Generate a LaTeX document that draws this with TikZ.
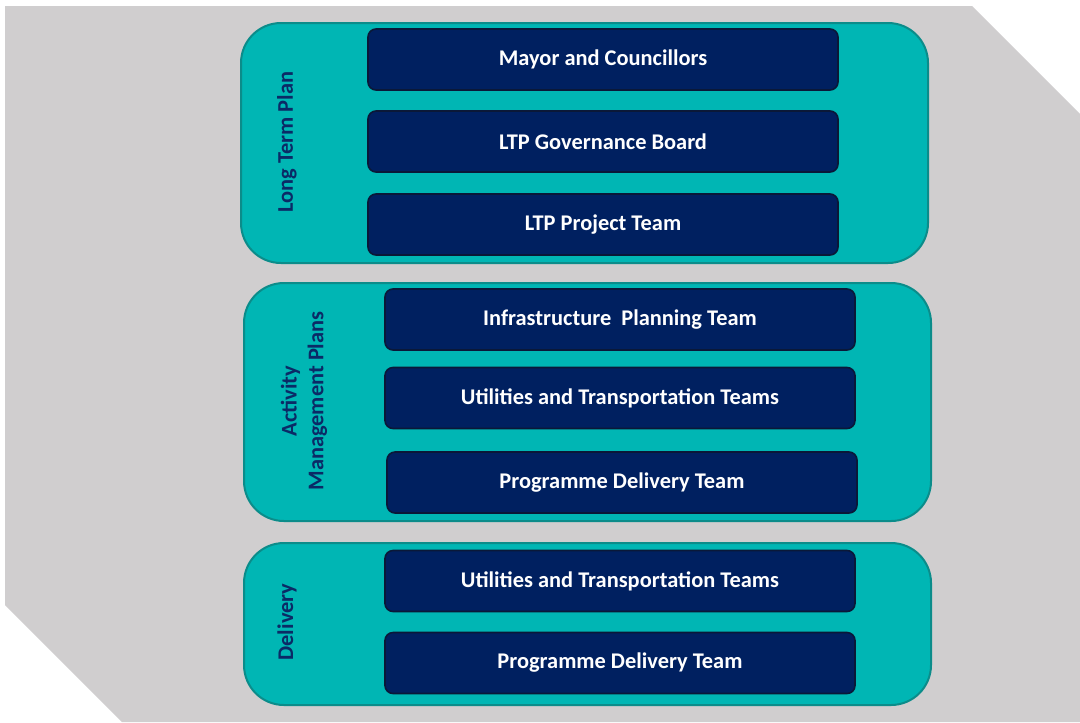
\documentclass[tikz,border=0pt]{standalone}
\usepackage{fontspec}
\setmainfont{Carlito}
\usepackage{tikz}
\definecolor{BackGrey}{HTML}{D0CECF}
\definecolor{PanelTeal}{HTML}{00B6B4}
\definecolor{PanelEdge}{HTML}{0B8C8A}
\definecolor{TeamNavy}{HTML}{002060}
\definecolor{TeamEdge}{HTML}{0A1838}
\definecolor{LabelNavy}{HTML}{0B2A66}
\newcommand{\TeamFont}{\fontsize{16.8pt}{19pt}\selectfont\bfseries}
\newcommand{\SideFont}{\fontsize{16.8pt}{20pt}\selectfont\bfseries}

\begin{document}
\begin{tikzpicture}[x=0.75pt,y=-0.75pt,line join=round,
  panel/.style={draw=PanelEdge,fill=PanelTeal,line width=1.5pt,rounded corners=30pt,
    minimum width=515.25pt,inner sep=0pt},
  team/.style={draw=TeamEdge,fill=TeamNavy,line width=1.2pt,rounded corners=6pt,
    minimum width=352.5pt,minimum height=45.75pt,inner sep=0pt,
    text=white,font=\TeamFont},
  side/.style={rotate=90,text=LabelNavy,font=\SideFont,align=center}]
  \useasboundingbox (0,0) rectangle (1080,722);
  % grey backdrop with cut corners
  \fill[BackGrey] (5,6) -- (972,6) -- (1080,114) -- (1080,722) -- (122,722) -- (5,605) -- cycle;
  % the three stages
  \node[panel,minimum height=180pt] (ltp) at (584.5,143) {};
  \node[panel,minimum height=178.5pt] (amp) at (587.5,402) {};
  \node[panel,minimum height=121.5pt] (dlv) at (587.5,624) {};
  \node[side] (ltplabel) at (287,142) {Long Term Plan};
  \node[side] (amplabel) at (304,401) {Activity\\Management Plans};
  \node[side] (dlvlabel) at (287,622) {Delivery};
  % teams
  \node[team] (mayor) at (603,59.5) {Mayor and Councillors};
  \node[team] (board) at (603,141.5) {LTP Governance Board};
  \node[team] (project) at (603,224.5) {LTP Project Team};
  \node[team] (infra) at (620,319.5) {Infrastructure\ \ Planning Team};
  \node[team] (utilA) at (620,398) {Utilities and Transportation Teams};
  \node[team] (progA) at (622,482.5) {Programme Delivery Team};
  \node[team] (utilB) at (620,581) {Utilities and Transportation Teams};
  \node[team] (progB) at (620,663) {Programme Delivery Team};
\end{tikzpicture}
\end{document}
